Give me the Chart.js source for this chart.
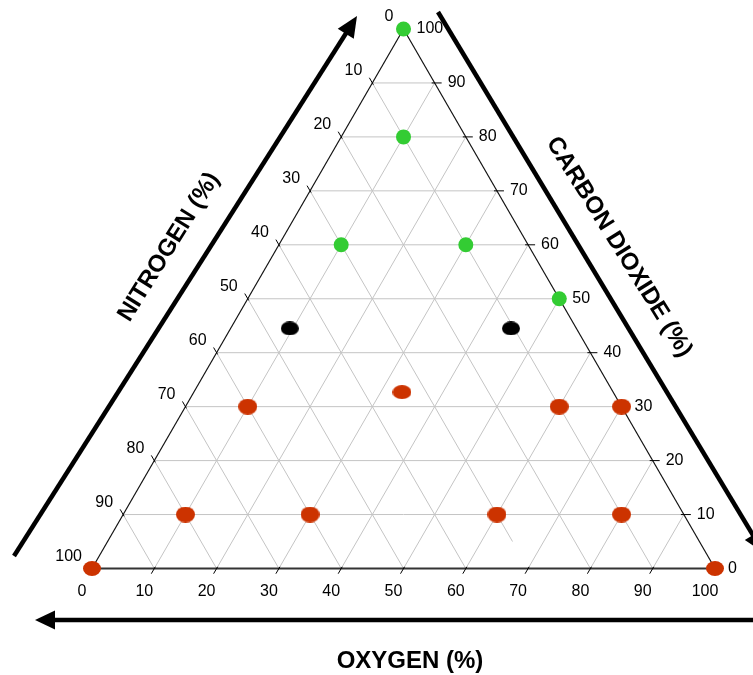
<!DOCTYPE html>
<html>
<head>
<meta charset="utf-8">
<script src="https://cdn.jsdelivr.net/npm/chart.js@4/dist/chart.umd.min.js"></script>
<style>
  html, body { margin: 0; padding: 0; background: #fff; }
  canvas { display: block; }
</style>
</head>
<body>
<canvas id="ternary" width="753" height="675"></canvas>
<script>
// Axis tick values, percent
const tickValues = [0, 10, 20, 30, 40, 50, 60, 70, 80, 90, 100];

// Gas compositions, percent: oxygen / nitrogen / carbon dioxide
const greenOxygen = [0, 10, 10, 30, 50];
const greenNitrogen = [0, 10, 30, 10, 0];
const greenCarbonDioxide = [100, 80, 60, 60, 50];

const blackOxygen = [9.5, 45];
const blackNitrogen = [46, 10.5];
const blackCarbonDioxide = [44.5, 44.5];

const redOxygen = [10, 33.4, 60, 70, 10, 30, 60, 80, 0, 100];
const redNitrogen = [60, 33.9, 10, 0, 80, 60, 30, 10, 100, 0];
const redCarbonDioxide = [30, 32.7, 30, 30, 10, 10, 10, 10, 0, 0];

const H = Math.sqrt(3) / 2;
const FONT = '"Liberation Sans", Arial, Helvetica, sans-serif';

// Ternary composition -> cartesian (x along the oxygen base, y = height toward CO2 apex)
function toXY(o, n, c) {
  return { x: o + c / 2, y: c * H };
}
function buildPoints(os, ns, cs) {
  return os.map((o, i) => toXY(o, ns[i], cs[i]));
}

// Filled ellipse used as a point marker
function ellipseSprite(w, h, color) {
  const cv = document.createElement('canvas');
  cv.width = w; cv.height = h;
  const g = cv.getContext('2d');
  g.fillStyle = color;
  g.beginPath();
  g.ellipse(w / 2, h / 2, w / 2, h / 2, 0, 0, Math.PI * 2);
  g.fill();
  return cv;
}
const redDot = ellipseSprite(19, 16, '#cc3300');
const redDotFlat = ellipseSprite(19, 14, '#cc3300');
const redDotSmall = ellipseSprite(18, 15, '#cc3300');
const blackDot = ellipseSprite(18, 14, '#000000');

const ternaryFrame = {
  id: 'ternaryFrame',
  beforeDatasetsDraw(chart) {
    const { ctx, scales: { x, y } } = chart;
    // pixel position from oxygen / carbon-dioxide share
    const P = (o, c) => [x.getPixelForValue(o + c / 2), y.getPixelForValue(c * H)];
    const seg = (a, b) => { ctx.beginPath(); ctx.moveTo(a[0], a[1]); ctx.lineTo(b[0], b[1]); ctx.stroke(); };

    ctx.save();
    // grid
    ctx.strokeStyle = '#c4c4c4';
    ctx.lineWidth = 1;
    for (let k = 10; k <= 90; k += 10) {
      seg(P(0, k), P(100 - k, k));            // constant carbon dioxide
      seg(P(k, 0), P(k, 100 - k));            // constant oxygen
      const startC = k === 30 ? 5 : 0;        // nitrogen 30 line stops short of the base
      seg(P(100 - k - startC, startC), P(0, 100 - k)); // constant nitrogen
    }

    // triangle frame
    ctx.strokeStyle = '#111';
    ctx.lineWidth = 1.2;
    seg(P(0, 0), P(0, 100));
    seg(P(100, 0), P(0, 100));
    ctx.strokeStyle = '#333';
    ctx.lineWidth = 2;
    seg(P(0, 0), P(100, 0));

    // ticks and tick labels
    ctx.strokeStyle = '#000';
    ctx.lineWidth = 1;
    ctx.fillStyle = '#000';
    ctx.font = '16px ' + FONT;
    ctx.textBaseline = 'middle';
    tickValues.forEach(v => {
      // oxygen, along the base
      let p = P(v, 0);
      seg([p[0] + 1, p[1] - 1.7], [p[0] - 3, p[1] + 5.2]);
      ctx.textAlign = 'center';
      ctx.fillText(String(v), p[0] - 10, p[1] + 23);

      // nitrogen, along the left side
      p = P(0, 100 - v);
      seg([p[0] + 1, p[1] + 1.7], [p[0] - 3, p[1] - 5.2]);
      ctx.textAlign = 'right';
      ctx.fillText(String(v), p[0] - 10, p[1] - 12);

      // carbon dioxide, along the right side
      p = P(100 - v, v);
      seg([p[0] - 3, p[1]], [p[0] + 7, p[1]]);
      ctx.textAlign = 'left';
      ctx.fillText(String(v), p[0] + 13, p[1]);
    });
    ctx.restore();
  },
  afterDraw(chart) {
    const { ctx } = chart;
    ctx.save();
    ctx.strokeStyle = '#000';
    ctx.fillStyle = '#000';
    ctx.lineWidth = 4.5;

    function arrow(x0, y0, x1, y1, headLen, headHalf) {
      const dx = x1 - x0, dy = y1 - y0;
      const L = Math.hypot(dx, dy);
      const ux = dx / L, uy = dy / L;
      const bx = x1 - ux * headLen, by = y1 - uy * headLen;
      ctx.beginPath();
      ctx.moveTo(x0, y0);
      ctx.lineTo(bx + ux * 2, by + uy * 2);
      ctx.stroke();
      ctx.beginPath();
      ctx.moveTo(x1, y1);
      ctx.lineTo(bx - uy * headHalf, by + ux * headHalf);
      ctx.lineTo(bx + uy * headHalf, by - ux * headHalf);
      ctx.closePath();
      ctx.fill();
    }
    arrow(14, 556, 357, 16, 21, 9.5);      // nitrogen direction
    arrow(438, 12, 763.8, 553, 21, 9.5);   // carbon dioxide direction
    arrow(760, 620, 35, 620, 20, 9.5);     // oxygen direction

    // axis titles
    ctx.font = 'bold 24px ' + FONT;
    ctx.textAlign = 'center';
    ctx.textBaseline = 'middle';

    ctx.save();
    ctx.translate(169, 247);
    ctx.rotate(-58 * Math.PI / 180);
    ctx.fillText('NITROGEN (%)', 0, 0);
    ctx.restore();

    ctx.save();
    ctx.translate(619, 247);
    ctx.rotate(58 * Math.PI / 180);
    ctx.fillText('CARBON DIOXIDE (%)', 0, 0);
    ctx.restore();

    ctx.fillText('OXYGEN (%)', 410, 661);
    ctx.restore();
  }
};

new Chart(document.getElementById('ternary'), {
  type: 'scatter',
  data: {
    datasets: [
      {
        label: 'Red',
        data: buildPoints(redOxygen, redNitrogen, redCarbonDioxide),
        pointStyle: [redDot, redDotFlat, redDot, redDot, redDot, redDot, redDot, redDot, redDotSmall, redDotSmall],
        pointRadius: 8,
        clip: false
      },
      {
        label: 'Black',
        data: buildPoints(blackOxygen, blackNitrogen, blackCarbonDioxide),
        pointStyle: blackDot,
        pointRadius: 8,
        clip: false
      },
      {
        label: 'Green',
        data: buildPoints(greenOxygen, greenNitrogen, greenCarbonDioxide),
        pointStyle: 'circle',
        pointRadius: 7.5,
        pointBorderWidth: 0,
        backgroundColor: '#33cc33',
        borderColor: '#33cc33',
        clip: false
      }
    ]
  },
  options: {
    responsive: false,
    animation: false,
    layout: { padding: { left: 92, right: 38, top: 29, bottom: 106.5 } },
    scales: {
      x: { type: 'linear', min: 0, max: 100, display: false },
      y: { type: 'linear', min: 0, max: 100 * H, display: false }
    },
    plugins: {
      legend: { display: false },
      tooltip: { enabled: false }
    }
  },
  plugins: [ternaryFrame]
});
</script>
</body>
</html>
